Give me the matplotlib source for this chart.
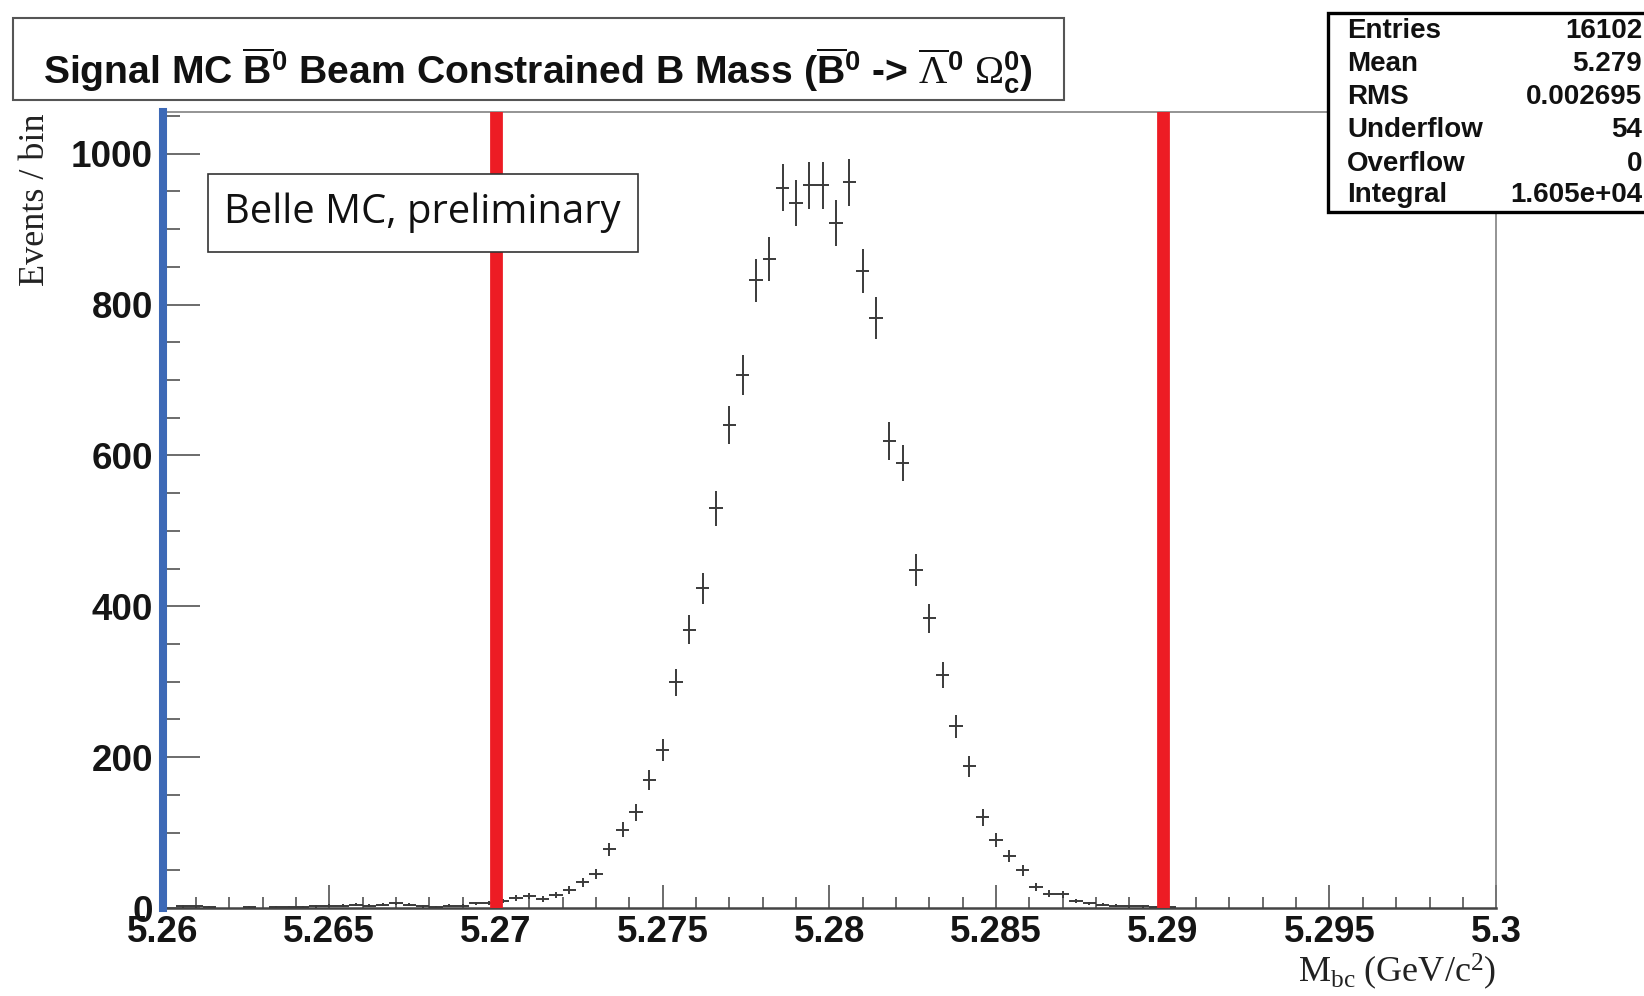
import numpy as np
import matplotlib
matplotlib.use("Agg")
import matplotlib.pyplot as plt
from matplotlib import font_manager
from matplotlib.patches import Rectangle
from matplotlib.ticker import MultipleLocator

# Mbc histogram: 100 bins of 0.4 MeV between 5.26 and 5.30 GeV
bin_lo = 5.26
bin_hi = 5.30
n_bins = 100
counts = [0, 2, 2, 1, 0, 0, 1, 0, 1, 1, 1, 2, 3, 3, 4, 3, 4, 6, 4, 2,
          1, 3, 3, 6, 7, 9, 13, 16, 12, 17, 24, 34, 45,
          78, 104, 127, 170, 210, 299, 369, 424, 530, 640,
          707, 832, 860, 955, 935, 958, 958, 908, 962, 845,
          782, 619, 590, 448, 384, 309, 241, 188, 120, 90,
          69, 50, 28, 19, 18, 9,
          6, 4, 3, 2, 2, 1, 1] + [0] * 24

cut_lo = 5.27
cut_hi = 5.29

stat_labels = ["Entries", "Mean", "RMS", "Underflow", "Overflow", "Integral"]
stat_values = ["16102", "5.279", "0.002695", "54", "0", "1.605e+04"]

names = {f.name for f in font_manager.fontManager.ttflist}
title_font = "Liberation Sans Narrow" if "Liberation Sans Narrow" in names else "Liberation Sans"

plt.rcParams["font.family"] = "Liberation Sans"
plt.rcParams["mathtext.fontset"] = "custom"
plt.rcParams["mathtext.rm"] = "Liberation Serif"
plt.rcParams["mathtext.it"] = "Liberation Serif:italic"
plt.rcParams["mathtext.bf"] = title_font + ":bold"

W, H = 1644, 996
fig = plt.figure(figsize=(W / 100, H / 100), dpi=100)
ax = fig.add_axes([162.5 / W, 1 - 908 / H, (1496.2 - 162.5) / W, (908 - 112.2) / H])

edges = np.linspace(bin_lo, bin_hi, n_bins + 1)
centers = 0.5 * (edges[:-1] + edges[1:])
y = np.array(counts, dtype=float)
m = y > 0
half = 0.5 * (bin_hi - bin_lo) / n_bins
ax.errorbar(centers[m], y[m], yerr=np.sqrt(y[m]), xerr=half, fmt="none",
            ecolor="#3a3a3a", elinewidth=1.4, capsize=0, zorder=3)

ax.set_xlim(bin_lo, bin_hi)
ax.set_ylim(0, 1055)

ax.axvline(bin_lo, color="#3d69b6", lw=5.8, clip_on=False, zorder=5)
for c in (cut_lo, cut_hi):
    ax.axvline(c, color="#ed1c24", lw=9.2, zorder=4)

ax.xaxis.set_major_locator(MultipleLocator(0.005))
ax.xaxis.set_minor_locator(MultipleLocator(0.001))
ax.yaxis.set_major_locator(MultipleLocator(200))
ax.yaxis.set_minor_locator(MultipleLocator(50))
ax.xaxis.set_major_formatter(matplotlib.ticker.FuncFormatter(lambda v, p: ("%.3f" % v).rstrip("0").rstrip(".")))

ax.tick_params(axis="x", which="major", direction="in", length=16.5, width=1.1,
               color="#444444", labelsize=26.5, pad=5, top=False)
ax.tick_params(axis="x", which="minor", direction="in", length=8, width=1.1,
               color="#444444", top=False)
ax.tick_params(axis="y", which="major", direction="in", length=26.5, width=1.1,
               color="#444444", labelsize=26.5, pad=7, right=False)
ax.tick_params(axis="y", which="minor", direction="in", length=12, width=1.1,
               color="#444444", right=False)
for lab in ax.get_xticklabels() + ax.get_yticklabels():
    lab.set_fontweight("bold")
    lab.set_color("#151515")

for s in ("top", "right"):
    ax.spines[s].set_color("#777777")
    ax.spines[s].set_linewidth(1.1)
ax.spines["bottom"].set_color("#444444")
ax.spines["bottom"].set_linewidth(1.8)
ax.spines["left"].set_color("#444444")

fig.text(36 / W, 1 - 200 / H, "Events / bin", rotation=90, ha="center", va="center",
         fontsize=26, family="Liberation Serif", color="#222222")
fig.text(1496 / W, 1 - 972 / H, r"$\mathrm{M_{bc}\ (GeV/c^{2})}$", ha="right", va="center",
         fontsize=26, color="#222222")

# title box
fig.add_artist(Rectangle((12.6 / W, 1 - 99.6 / H), (1064 - 12.6) / W, (99.6 - 17.8) / H,
                         transform=fig.transFigure, facecolor="white",
                         edgecolor="#555555", lw=1.5))
title = (r"Signal MC $\overline{\mathbf{B}}^{\mathbf{0}}$ Beam Constrained B Mass "
         r"($\overline{\mathbf{B}}^{\mathbf{0}}$ -> $\overline{\Lambda}^{\mathbf{0}}$ "
         r"$\Omega_{\mathbf{c}}^{\mathbf{0}}$)")
t = fig.text(538 / W, 1 - 84 / H, title, ha="center", va="baseline", fontsize=34,
             family=title_font, weight="bold", color="#111111")
# no narrow font here, so shrink the title until it fits the box like the original
r = fig.canvas.get_renderer()
w = t.get_window_extent(r).width
t.set_fontsize(34 * min(1.0, 990 / w))

# stats box
fig.add_artist(Rectangle((1328 / W, 1 - 212 / H), 0.3, (212 - 12.6) / H,
                         transform=fig.transFigure, facecolor="white",
                         edgecolor="black", lw=2.4))
rows_y = [31.5, 64, 97.5, 130, 163.6, 195]
for lab, val, yy in zip(stat_labels, stat_values, rows_y):
    fig.text(1347 / W, 1 - yy / H, lab, ha="left", va="center", fontsize=20,
             weight="bold", color="#111111")
    fig.text(1642 / W, 1 - yy / H, val, ha="right", va="center", fontsize=20,
             weight="bold", color="#111111")

# Belle label box
fig.add_artist(Rectangle((207.6 / W, 1 - 251.6 / H), (637.5 - 207.6) / W, (251.6 - 174) / H,
                         transform=fig.transFigure, facecolor="white",
                         edgecolor="#333333", lw=1.2))
fig.text(422.5 / W, 1 - 213 / H, "Belle MC, preliminary", ha="center", va="center",
         fontsize=28.8, family="Open Sans", color="#111111")

fig.savefig("out.png", dpi=100)
